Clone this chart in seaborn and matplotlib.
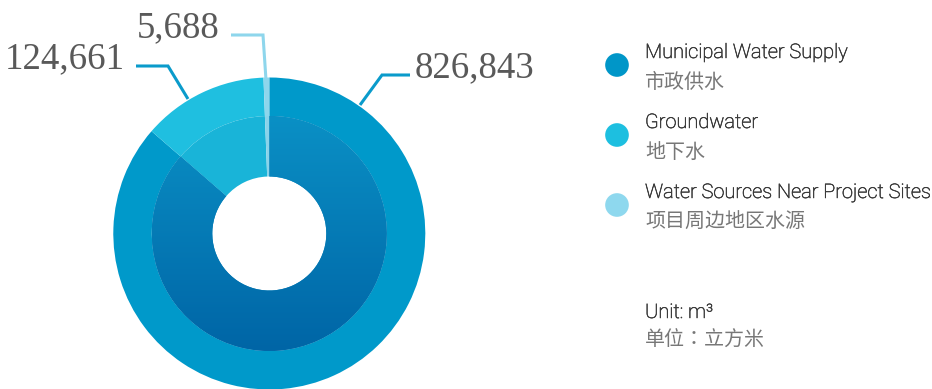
import numpy as np
import matplotlib
matplotlib.use("Agg")
import matplotlib.pyplot as plt
import matplotlib.patheffects as pe
from matplotlib.colors import LinearSegmentedColormap
import seaborn as sns

# Water withdrawal by source
sources_en = ["Municipal Water Supply", "Groundwater", "Water Sources Near Project Sites"]
sources_zh = ["市政供水", "地下水", "项目周边地区水源"]
volumes = [826843, 124661, 5688]
unit_en = "Unit: m³"
unit_zh = "单位：立方米"

value_labels = [f"{v:,}" for v in volumes]

sns.set_theme(style="white")
plt.rcParams["font.family"] = ["Roboto", "Noto Sans CJK SC", "DejaVu Sans"]

W, H = 932, 389
fig = plt.figure(figsize=(W / 100, H / 100), dpi=100)
ax = fig.add_axes([0, 0, 1, 1])


def px(x, y):
    """Canvas coordinates measured from the top-left corner."""
    return x, H - y


cx, cy = px(269.3, 233.5)
R_OUT, R_MID, R_HOLE = 156, 117.5, 57

outer_colors = ["#0099CA", "#1FBFE0", "#8ED6EC"]
inner_colors = ["#0A84BD", "#19B4D8", "#8AD3EA"]
legend_colors = ["#0096C8", "#1DBFE0", "#8ED8EE"]
line_colors = ["#0A9BCB", "#0A9BCB", "#8ED6EC"]
TEXT_GREY = "#595959"
LEGEND_GREY = "#3a3a3a"
ZH_GREY = "#777777"
FS = 14.4
en_effect = [pe.withStroke(linewidth=0.4, foreground=LEGEND_GREY)]

# outer ring
ax.pie(volumes, radius=R_OUT, center=(cx, cy), startangle=90, counterclock=False,
       colors=outer_colors, wedgeprops=dict(width=R_OUT - R_MID, linewidth=0))

# inner, shaded ring
wedges_in, _ = ax.pie(volumes, radius=R_MID, center=(cx, cy), startangle=90,
                      counterclock=False, colors=inner_colors,
                      wedgeprops=dict(width=R_MID - R_HOLE, linewidth=0))
shade = LinearSegmentedColormap.from_list("shade", ["#0A90C5", "#0065A6"])
grad = np.linspace(0, 1, 256).reshape(-1, 1)
im = ax.imshow(grad, cmap=shade, origin="upper", aspect="auto",
               extent=(cx - R_MID, cx + R_MID, cy - R_MID, cy + R_MID),
               zorder=wedges_in[0].get_zorder() + 0.1)
im.set_clip_path(wedges_in[0])

# leader lines with value labels
leaders = [
    [(360, 105), (382, 75), (410, 75)],
    [(188, 99), (168, 66), (136, 66)],
    [(266, 80), (263, 35), (231, 35)],
]
label_pos = [(415, 77, "left"), (125, 68, "right"), (220, 37, "right")]
for pts, (tx, ty, ha), lab, col in zip(leaders, label_pos, value_labels, line_colors):
    xs, ys = zip(*[px(x, y) for x, y in pts])
    ax.plot(xs, ys, color=col, lw=2.2, solid_capstyle="butt", solid_joinstyle="miter",
            zorder=5)
    ax.text(*px(tx, ty), lab, ha=ha, va="baseline", fontsize=26.5,
            family=["Liberation Serif"], color=TEXT_GREY)

# legend
dot_y = [65, 135, 205]
sns.scatterplot(x=[617] * 3, y=[H - y for y in dot_y], hue=sources_en,
                palette=dict(zip(sources_en, legend_colors)), s=290, linewidth=0,
                legend=False, ax=ax, zorder=6)
for y, en, zh in zip(dot_y, sources_en, sources_zh):
    ax.text(*px(645, y - 7), en, ha="left", va="baseline", fontsize=FS,
            fontweight="light", family=["Roboto", "DejaVu Sans"], color=LEGEND_GREY,
            path_effects=en_effect)
    ax.text(*px(645, y + 23), zh, ha="left", va="baseline", fontsize=FS,
            family=["Noto Sans CJK SC", "DejaVu Sans"], color=ZH_GREY)

ax.text(*px(645, 318), unit_en, ha="left", va="baseline", fontsize=FS,
        fontweight="light", family=["Roboto", "DejaVu Sans"], color=LEGEND_GREY,
        path_effects=en_effect)
ax.text(*px(645, 346), unit_zh, ha="left", va="baseline", fontsize=FS,
        family=["Noto Sans CJK TC", "DejaVu Sans"], color=ZH_GREY)

ax.set_xlim(0, W)
ax.set_ylim(0, H)
ax.set_aspect("auto")
ax.axis("off")

fig.savefig("out.png", dpi=100, facecolor="white")
